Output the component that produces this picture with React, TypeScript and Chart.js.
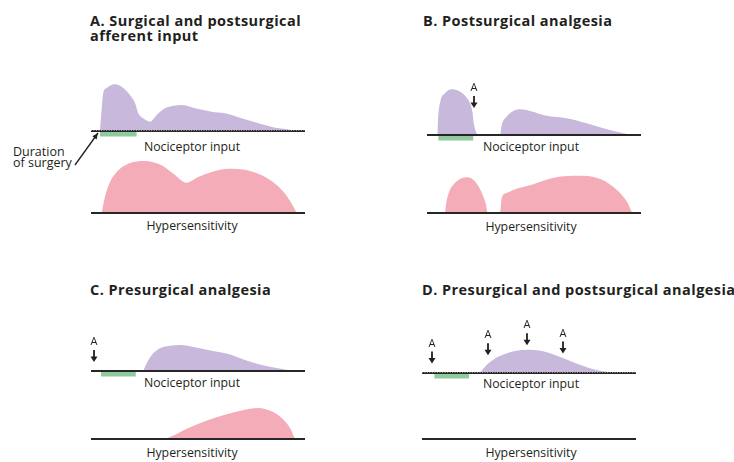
import React, { useEffect, useRef } from "react";
import { Chart, registerables } from "chart.js";
Chart.register(...registerables);

// ---------- DATA (time in % of the plotted period, intensity in arbitrary units) ----------
// Panel A – surgical and postsurgical afferent input
const nocTimesA = [4.2, 5.0, 5.7, 7.3, 11.2, 15.1, 18.2, 20.6, 22.1, 24.4, 27.6, 30.7, 34.6, 38.5, 42.4, 48.6, 56.4, 62.6, 70.4, 78.2, 86.0, 93.8, 94.4];
const nocValuesA = [0, 22.7, 37.7, 43, 46.7, 43, 36, 27.7, 17.7, 12.7, 9.3, 16, 22.7, 25.3, 26, 22.7, 19.3, 17.7, 12.7, 7.7, 3.3, 0.7, 0];
const hypTimesA = [5.0, 6.5, 8.9, 12.8, 17.4, 25.2, 33.0, 38.5, 44.7, 50.1, 56.4, 64.2, 72.0, 79.8, 86.0, 90.7, 93.8, 96.1];
const hypValuesA = [0, 16, 31, 42.7, 49.3, 52, 47.7, 39.3, 30.3, 36, 41, 44.3, 43.3, 37.7, 29.3, 19.3, 9.3, 0];

// Panel B – postsurgical analgesia
const nocTimesB = [4.8, 5.3, 6.4, 8.4, 11.5, 14.6, 17.8, 20.1, 21.2, 22.0, 23.2, 24.0, 34.1, 34.9, 37.2, 40.3, 43.5, 48.1, 55.9, 65.3, 74.6, 84.0, 91.7, 95.7];
const nocValuesB = [0, 20, 35, 41.7, 45.7, 44.3, 39.3, 31.7, 23.3, 10, 1.7, 0, 0, 10, 18.3, 24, 25.7, 24, 19.3, 16.7, 11.7, 5.7, 1.7, 0];
const hypTimesB = [8.4, 9.0, 10.5, 13.0, 16.0, 19.0, 21.5, 24.0, 26.0, 27.6, 28.4, 34.1, 34.9, 37.2, 41.9, 48.1, 55.9, 63.7, 73.0, 81.8, 88.6, 93.3, 95.9];
const hypValuesB = [0, 10, 22, 30, 34.5, 35.7, 33.5, 27, 18, 8.3, 0, 0, 15, 20, 24.3, 27.7, 33.3, 36.7, 37.3, 33.3, 23.3, 11.7, 0];

// Panel C – presurgical analgesia
const nocTimesC = [24.4, 26.0, 28.4, 32.2, 36.9, 41.6, 48.6, 56.4, 64.2, 72.0, 79.8, 87.5, 93.8];
const nocValuesC = [0, 7.7, 16, 22.7, 25.3, 26, 23.7, 20.3, 17, 11, 6, 2.7, 0];
const hypTimesC = [34.6, 39.3, 45.5, 53.3, 62.6, 72.0, 78.2, 84.4, 89.1, 93.0, 95.3];
const hypValuesC = [0, 4.3, 11, 17.7, 24.3, 29.3, 31, 27.7, 21, 11, 0];

// Panel D – presurgical and postsurgical analgesia
const nocTimesD = [27.1, 28.6, 31.8, 37.2, 43.5, 49.7, 56.0, 63.7, 71.5, 79.3, 87.1, 91.7];
const nocValuesD = [0, 4.3, 11, 17.7, 22, 23.3, 22, 16.7, 10, 4.3, 1, 0];
const hypTimesD: number[] = [];
const hypValuesD: number[] = [];

// Duration of surgery (start, end) per panel A..D
const surgeryStart = [4.2, 5.3, 4.7, 5.8];
const surgeryEnd = [21.3, 21.6, 20.9, 22.0];

// Analgesia ("A") administration times and arrow tip levels
const analgesiaTimesB = [22.0];
const analgesiaLevelsB = [27];
const analgesiaTimesC = [1.4];
const analgesiaLevelsC = [9];
const analgesiaTimesD = [4.5, 31.0, 48.9, 66.0];
const analgesiaLevelsD = [9.4, 17.7, 27.7, 19.4];

// Text
const titles = [
  ["A. Surgical and postsurgical", "afferent input"],
  ["B. Postsurgical analgesia"],
  ["C. Presurgical analgesia"],
  ["D. Presurgical and postsurgical analgesia"],
];
const nocLabel = "Nociceptor input";
const hypLabel = "Hypersensitivity";
const surgeryLabel = ["Duration", "of surgery"];

// ---------- STYLE ----------
const PURPLE = "#c8b9dc";
const PINK = "#f4adb8";
const GREEN = "#8fcb9c";
const AXIS = "#262626";
const INK = "#231f20";
const FONT = "'Open Sans', 'DejaVu Sans', sans-serif";

const PW = 214; // plot width
const PH = 55; // plot height
const PAD = { left: 30, right: 20, top: 70, bottom: 45 };

type PlotProps = {
  x0: number;
  base: number;
  times: number[];
  values: number[];
  color: string;
  surgery?: [number, number];
  arrowTimes?: number[];
  arrowLevels?: number[];
  dotted?: boolean;
  pointer?: boolean;
};

function Plot(props: PlotProps) {
  const ref = useRef<HTMLCanvasElement>(null);
  useEffect(() => {
    const { times, values, color, surgery, arrowTimes, arrowLevels, dotted, pointer } = props;
    const overlay = {
      id: "overlay",
      afterDatasetsDraw(chart: any) {
        const ctx = chart.ctx as CanvasRenderingContext2D;
        const xs = chart.scales.x;
        const ys = chart.scales.y;
        const by = ys.getPixelForValue(0);
        ctx.save();
        if (dotted) {
          ctx.strokeStyle = "rgba(255,255,255,0.55)";
          ctx.lineWidth = 1;
          ctx.setLineDash([1, 1.5]);
          ctx.beginPath();
          ctx.moveTo(xs.getPixelForValue(0), by - 0.5);
          ctx.lineTo(xs.getPixelForValue(100), by - 0.5);
          ctx.stroke();
          ctx.setLineDash([]);
        }
        if (surgery) {
          const a = xs.getPixelForValue(surgery[0]);
          const b = xs.getPixelForValue(surgery[1]);
          ctx.fillStyle = GREEN;
          ctx.fillRect(a, by + 1, b - a, 4.5);
        }
        if (arrowTimes && arrowLevels) {
          arrowTimes.forEach((t, i) => {
            const px = Math.round(xs.getPixelForValue(t));
            const py = ys.getPixelForValue(arrowLevels[i]);
            ctx.strokeStyle = INK;
            ctx.fillStyle = INK;
            ctx.lineWidth = 1.8;
            ctx.beginPath();
            ctx.moveTo(px, py - 12);
            ctx.lineTo(px, py - 4);
            ctx.stroke();
            ctx.beginPath();
            ctx.moveTo(px - 3.5, py - 5.5);
            ctx.lineTo(px + 3.5, py - 5.5);
            ctx.lineTo(px, py);
            ctx.closePath();
            ctx.fill();
            ctx.font = `11px ${FONT}`;
            ctx.textAlign = "center";
            ctx.textBaseline = "alphabetic";
            ctx.fillText("A", px, py - 17);
          });
        }
        if (pointer && surgery) {
          const tx = xs.getPixelForValue(surgery[0]) - 2;
          const ty = by + 2;
          const sx = tx - 23;
          const sy = ty + 32;
          ctx.strokeStyle = INK;
          ctx.fillStyle = INK;
          ctx.lineWidth = 1.3;
          ctx.beginPath();
          ctx.moveTo(sx, sy);
          ctx.lineTo(tx, ty);
          ctx.stroke();
          const ang = Math.atan2(ty - sy, tx - sx);
          const L = 6, W = 2.6;
          ctx.beginPath();
          ctx.moveTo(tx, ty);
          ctx.lineTo(tx - L * Math.cos(ang) + W * Math.sin(ang), ty - L * Math.sin(ang) - W * Math.cos(ang));
          ctx.lineTo(tx - L * Math.cos(ang) - W * Math.sin(ang), ty - L * Math.sin(ang) + W * Math.cos(ang));
          ctx.closePath();
          ctx.fill();
        }
        ctx.restore();
      },
    };
    const chart = new Chart(ref.current as HTMLCanvasElement, {
      type: "line",
      data: {
        datasets: [
          {
            data: times.map((t, i) => ({ x: t, y: values[i] })),
            fill: "origin",
            backgroundColor: color,
            borderWidth: 0,
            borderColor: color,
            pointRadius: 0,
            cubicInterpolationMode: "monotone",
            order: 2,
          } as any,
          {
            data: [
              { x: 0, y: 0 },
              { x: 100, y: 0 },
            ],
            fill: false,
            borderColor: AXIS,
            borderWidth: 2,
            pointRadius: 0,
            clip: false,
            order: 1,
          } as any,
        ],
      },
      options: {
        animation: false,
        responsive: false,
        maintainAspectRatio: false,
        events: [],
        layout: { padding: PAD },
        scales: {
          x: { type: "linear", min: 0, max: 100, display: false },
          y: { type: "linear", min: 0, max: PH, display: false },
        },
        plugins: { legend: { display: false }, tooltip: { enabled: false } },
      },
      plugins: [overlay],
    });
    return () => chart.destroy();
  }, []);
  return (
    <canvas
      ref={ref}
      width={PW + PAD.left + PAD.right}
      height={PH + PAD.top + PAD.bottom}
      style={{ position: "absolute", left: props.x0 - PAD.left, top: props.base - PH - PAD.top }}
    />
  );
}

function Txt(props: { x: number; baseline: number; size: number; bold?: boolean; center?: boolean; children: React.ReactNode }) {
  const { x, baseline, size, bold, center } = props;
  const top = baseline - 0.888 * size;
  return (
    <div
      style={{
        position: "absolute",
        left: center ? x - 150 : x,
        width: center ? 300 : undefined,
        top,
        fontSize: size,
        lineHeight: 1,
        fontWeight: bold ? 700 : 400,
        textAlign: center ? "center" : "left",
        whiteSpace: "nowrap",
        color: INK,
        fontFamily: FONT,
        letterSpacing: bold ? 0.45 : 0,
      }}
    >
      {props.children}
    </div>
  );
}

export default function App() {
  return (
    <div
      style={{
        position: "absolute",
        left: 0,
        top: 0,
        width: 734,
        height: 462,
        overflow: "hidden",
        background: "#fff",
        fontFamily: FONT,
      }}
    >
      {/* titles */}
      <Txt x={90} baseline={27} size={14.5} bold>{titles[0][0]}</Txt>
      <Txt x={90} baseline={42} size={14.5} bold>{titles[0][1]}</Txt>
      <Txt x={423} baseline={27} size={14.5} bold>{titles[1][0]}</Txt>
      <Txt x={90} baseline={295.5} size={14.5} bold>{titles[2][0]}</Txt>
      <Txt x={422} baseline={295.5} size={14.5} bold>{titles[3][0]}</Txt>

      {/* axis labels */}
      <Txt x={192} baseline={151.7} size={12.3} center>{nocLabel}</Txt>
      <Txt x={531} baseline={152} size={12.3} center>{nocLabel}</Txt>
      <Txt x={192} baseline={388} size={12.3} center>{nocLabel}</Txt>
      <Txt x={531} baseline={389} size={12.3} center>{nocLabel}</Txt>
      <Txt x={192} baseline={231} size={12.3} center>{hypLabel}</Txt>
      <Txt x={531} baseline={231.5} size={12.3} center>{hypLabel}</Txt>
      <Txt x={192} baseline={458} size={12.3} center>{hypLabel}</Txt>
      <Txt x={531} baseline={458} size={12.3} center>{hypLabel}</Txt>

      <Txt x={13} baseline={157} size={12.5}>{surgeryLabel[0]}</Txt>
      <Txt x={13} baseline={168.5} size={12.5}>{surgeryLabel[1]}</Txt>

      {/* plots */}
      <Plot x0={91} base={131} times={nocTimesA} values={nocValuesA} color={PURPLE}
        surgery={[surgeryStart[0], surgeryEnd[0]]} dotted pointer />
      <Plot x0={91} base={213} times={hypTimesA} values={hypValuesA} color={PINK} />

      <Plot x0={427} base={135} times={nocTimesB} values={nocValuesB} color={PURPLE}
        surgery={[surgeryStart[1], surgeryEnd[1]]} arrowTimes={analgesiaTimesB} arrowLevels={analgesiaLevelsB} />
      <Plot x0={427} base={213} times={hypTimesB} values={hypValuesB} color={PINK} />

      <Plot x0={91} base={371} times={nocTimesC} values={nocValuesC} color={PURPLE}
        surgery={[surgeryStart[2], surgeryEnd[2]]} arrowTimes={analgesiaTimesC} arrowLevels={analgesiaLevelsC} />
      <Plot x0={91} base={439} times={hypTimesC} values={hypValuesC} color={PINK} />

      <Plot x0={422} base={373} times={nocTimesD} values={nocValuesD} color={PURPLE}
        surgery={[surgeryStart[3], surgeryEnd[3]]} arrowTimes={analgesiaTimesD} arrowLevels={analgesiaLevelsD} dotted />
      <Plot x0={422} base={439} times={hypTimesD} values={hypValuesD} color={PINK} />
    </div>
  );
}
